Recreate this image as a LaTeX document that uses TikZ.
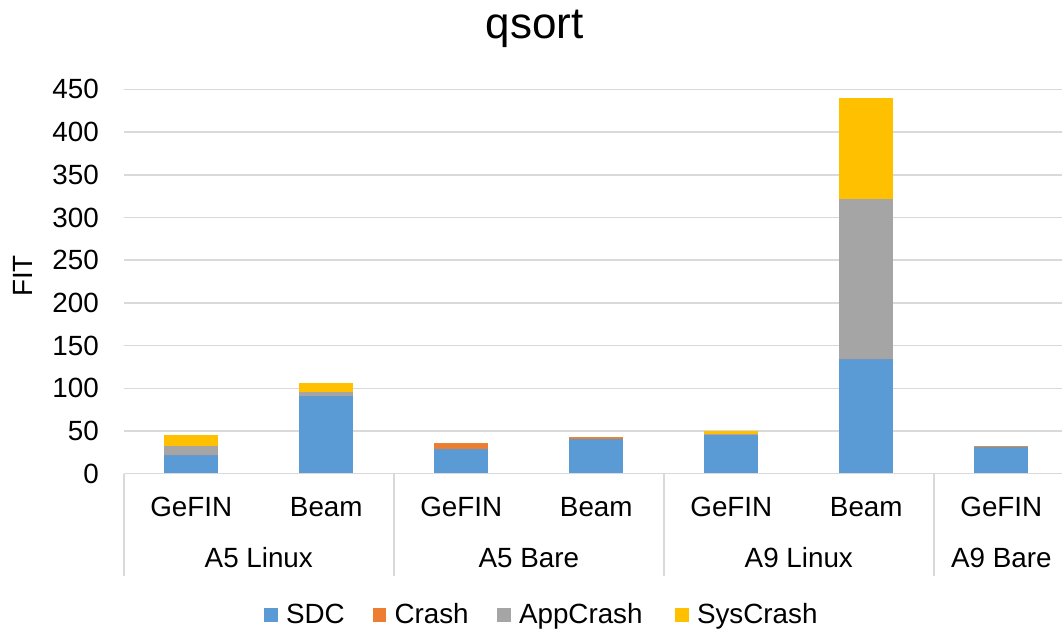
\documentclass[tikz,border=0pt]{standalone}
\usepackage{fontspec}
\setmainfont{Liberation Sans}
\usepackage{tikz}
\usetikzlibrary{positioning}
\definecolor{sdc}{HTML}{5B9BD5}
\definecolor{crash}{HTML}{ED7D31}
\definecolor{appcrash}{HTML}{A5A5A5}
\definecolor{syscrash}{HTML}{FFC000}
\definecolor{gridgray}{HTML}{D9D9D9}
\tikzset{
  gridline/.style  = {gridgray,line width=1.5pt},
  axislab/.style   = {font=\fontsize{27.8}{32}\selectfont,inner sep=0pt},
  titlelab/.style  = {font=\fontsize{44}{52}\selectfont,inner sep=0pt,anchor=base},
  legkey/.style    = {minimum size=13.5pt,inner sep=0pt,anchor=south east}
}
% one stacked bar: centre, SDC, Crash, AppCrash, SysCrash
\newcommand{\fitbar}[5]{%
  \fill[sdc]      (#1-27,0) rectangle (#1+27,#2);
  \fill[crash]    (#1-27,#2) rectangle (#1+27,#2+#3);
  \fill[appcrash] (#1-27,#2+#3) rectangle (#1+27,#2+#3+#4);
  \fill[syscrash] (#1-27,#2+#3+#4) rectangle (#1+27,#2+#3+#4+#5);
}

\begin{document}
\begin{tikzpicture}[x=1pt,y=1pt]
  \useasboundingbox (-123.8,-160.3) rectangle (938.2,473.7);
  \node[titlelab] (title) at (410.7,434.7) {qsort};
  \node[axislab,rotate=90] (fit) at (-100.8,197.7) {FIT};
  \begin{scope}[y=0.854pt]
    \foreach \v in {50,100,...,450}
      \draw[gridline] (0,\v) -- (938.2,\v);
    \foreach \v in {0,50,...,450}
      \node[axislab,anchor=east] (tick\v) at (-24.8,\v) {\v};
    \fitbar{67.5}{22}{0}{10.5}{13}
    \fitbar{202.5}{91.5}{0}{4}{10.5}
    \fitbar{337.5}{29}{7}{0}{0}
    \fitbar{472.5}{40.5}{2}{0}{0}
    \fitbar{607.5}{45.5}{0}{1.5}{3}
    \fitbar{742.5}{134.5}{0}{187.5}{118}
    \fitbar{877.5}{31.3}{1.5}{0}{0}
  \end{scope}
  \draw[gridline] (0,0) -- (938.2,0);
  \foreach \x in {0,270,540,810}
    \draw[gridline] (\x,0) -- (\x,-102.3);
  \foreach \i/\lab in {0/GeFIN,1/Beam,2/GeFIN,3/Beam,4/GeFIN,5/Beam,6/GeFIN}
    \node[axislab,anchor=base] (cat\i) at ({67.5+135*\i},-43) {\lab};
  \foreach \n/\x/\lab in {1/135/A5 Linux,2/405/A5 Bare,3/675/A9 Linux,4/877.5/A9 Bare}
    \node[axislab,anchor=base] (grp\n) at (\x,-94) {\lab};
  % legend
  \foreach \col/\x/\lab in {sdc/162/SDC,crash/270.5/Crash,appcrash/395/AppCrash,syscrash/573/SysCrash}{
    \node[axislab,anchor=base west] (lab\col) at (\x,-149.3) {\lab};
    \node[legkey,fill=\col,left=8pt of lab\col.base west,anchor=south east,yshift=1pt] (key\col) {};
  }
\end{tikzpicture}
\end{document}
